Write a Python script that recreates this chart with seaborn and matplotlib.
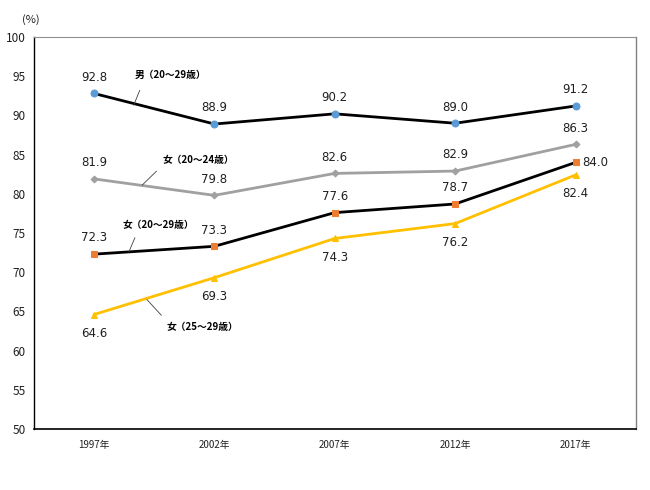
import seaborn as sns
import matplotlib.pyplot as plt
import pandas as pd

years = ["1997年", "2002年", "2007年", "2012年", "2017年"]
male_20_29 = [92.8, 88.9, 90.2, 89.0, 91.2]
female_20_24 = [81.9, 79.8, 82.6, 82.9, 86.3]
female_20_29 = [72.3, 73.3, 77.6, 78.7, 84.0]
female_25_29 = [64.6, 69.3, 74.3, 76.2, 82.4]

series_names = ["男（20～29歳）", "女（20～24歳）", "女（20～29歳）", "女（25～29歳）"]

sns.set_theme(style="white")
plt.rcParams["font.family"] = ["Noto Sans CJK JP", "DejaVu Sans"]

df = pd.DataFrame({"year": years * 4,
                   "x": list(range(5)) * 4,
                   "value": male_20_29 + female_20_24 + female_20_29 + female_25_29,
                   "series": [s for s in series_names for _ in years]})

styles = {
    series_names[0]: dict(line="black", marker="o", mcolor="#5b9bd5", ms=5, lw=2.0),
    series_names[1]: dict(line="#a0a0a0", marker="D", mcolor="#a0a0a0", ms=3.5, lw=2.0),
    series_names[2]: dict(line="black", marker="s", mcolor="#ed7d31", ms=5, lw=2.0),
    series_names[3]: dict(line="#ffc000", marker="^", mcolor="#ffc000", ms=5, lw=2.0),
}

fig = plt.figure(figsize=(6.5, 4.9), dpi=100)
ax = fig.add_axes([0.052, 0.1245, 0.926, 0.80])

for name in series_names:
    st = styles[name]
    sub = df[df["series"] == name]
    sns.lineplot(data=sub, x="x", y="value", ax=ax, color=st["line"], lw=st["lw"],
                 marker=st["marker"], markersize=st["ms"], markerfacecolor=st["mcolor"],
                 markeredgecolor=st["mcolor"], legend=False)

# data labels
label_font = dict(fontsize=8.5, color="#202020", family=["DejaVu Sans"])
for i, v in enumerate(male_20_29):
    ax.annotate(f"{v:.1f}", (i, v), xytext=(0, 7), textcoords="offset points", ha="center", va="bottom", **label_font)
for i, v in enumerate(female_20_24):
    ax.annotate(f"{v:.1f}", (i, v), xytext=(0, 7), textcoords="offset points", ha="center", va="bottom", **label_font)
for i, v in enumerate(female_20_29):
    if i == 4:
        ax.annotate(f"{v:.1f}", (i, v), xytext=(5, 0), textcoords="offset points", ha="left", va="center", **label_font)
    else:
        ax.annotate(f"{v:.1f}", (i, v), xytext=(0, 7), textcoords="offset points", ha="center", va="bottom", **label_font)
for i, v in enumerate(female_25_29):
    ax.annotate(f"{v:.1f}", (i, v), xytext=(0, -9), textcoords="offset points", ha="center", va="top", **label_font)

# series name callouts: (text, text position, leader start, leader end)
callouts = [
    (series_names[0], (0.34, 95.2), (0.38, 93.2), (0.33, 91.3)),
    (series_names[1], (0.57, 84.3), (0.52, 82.9), (0.40, 81.1)),
    (series_names[2], (0.24, 76.0), (0.34, 74.4), (0.29, 72.6)),
    (series_names[3], (0.60, 63.0), (0.56, 64.5), (0.44, 66.5)),
]
for text, tpos, a, b in callouts:
    ax.text(tpos[0], tpos[1], text, ha="left", va="center",
            fontsize=7, fontweight="bold", color="black")
    ax.annotate("", xy=b, xytext=a, textcoords="data",
                arrowprops=dict(arrowstyle="-", color="#404040", lw=0.6, shrinkA=0, shrinkB=0))

ax.set_xlim(-0.5, 4.5)
ax.set_ylim(50, 100)
ax.set_yticks(range(50, 101, 5))
ax.set_xticks(range(5))
ax.set_xticklabels(years)
ax.set_xlabel("")
ax.set_ylabel("")
ax.tick_params(axis="y", labelsize=8.5, length=0, pad=6)
ax.tick_params(axis="x", labelsize=7, length=2, direction="in", pad=8, color="#a0a0a0")
for lbl in ax.get_xticklabels() + ax.get_yticklabels():
    lbl.set_color("#202020")

ax.spines["left"].set_color("black")
ax.spines["bottom"].set_color("black")
ax.spines["left"].set_linewidth(1.0)
ax.spines["bottom"].set_linewidth(1.2)
ax.spines["top"].set_color("#909090")
ax.spines["right"].set_color("#808080")
ax.spines["top"].set_linewidth(0.8)
ax.spines["right"].set_linewidth(1.0)

fig.text(22 / 650, 1 - 20 / 490, "(%)", fontsize=8, ha="left", va="center", color="#202020")

fig.savefig("out.png", dpi=100)
